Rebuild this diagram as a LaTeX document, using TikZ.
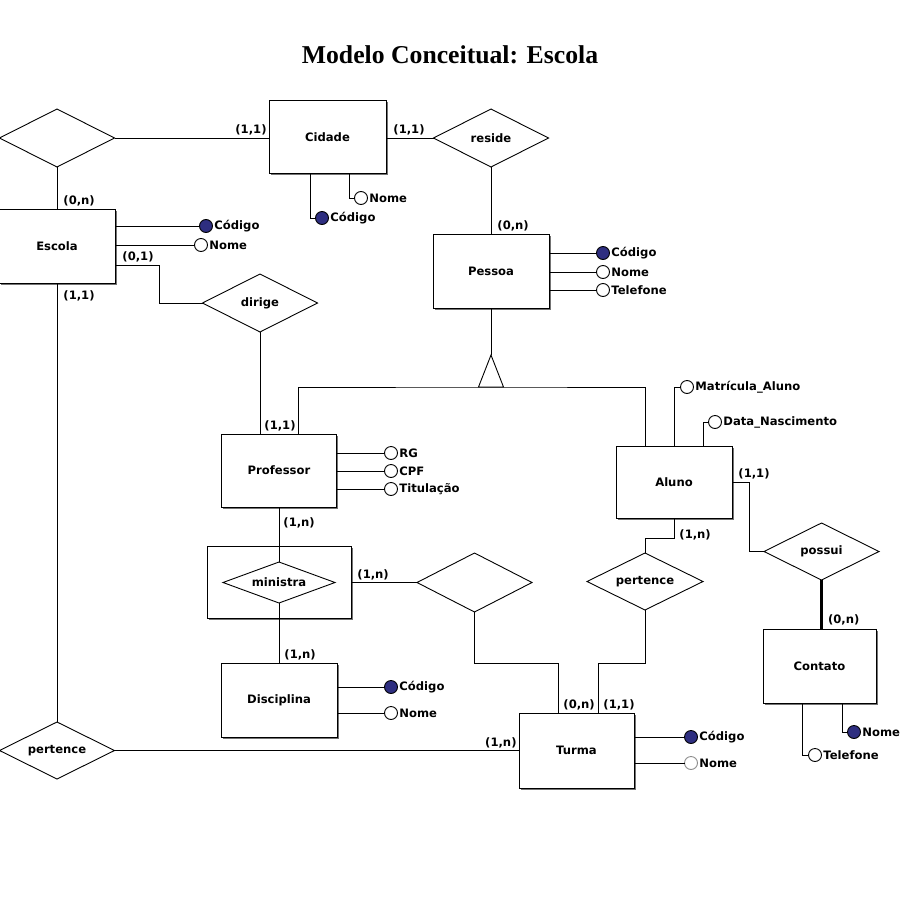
\documentclass[tikz,border=0pt]{standalone}
\usepackage{fontspec}
\setmainfont{DejaVu Sans}
\newfontfamily\titulofont{Liberation Serif}
\usepackage{tikz}
\usetikzlibrary{positioning,calc,shapes.geometric,shadows}

\definecolor{azulchave}{RGB}{46,46,128}

\begin{document}
\begin{tikzpicture}[x=1pt,y=-1pt,line width=0.9pt,
    font=\fontsize{11.6}{14}\selectfont\bfseries,
    entidade/.style={rectangle,draw,fill=white,minimum width=116pt,minimum height=74pt,
      inner sep=0pt,outer sep=0pt,
      drop shadow={shadow xshift=1.5pt,shadow yshift=-1.5pt,fill=black!55,opacity=1}},
    relac/.style={diamond,draw,fill=white,aspect=2.5,inner sep=0pt,outer sep=0pt,
      minimum width=115pt,minimum height=58pt},
    chave/.style={circle,draw,fill=azulchave,minimum size=13pt,inner sep=0pt,outer sep=0pt},
    atrib/.style={circle,draw,fill=white,minimum size=13pt,inner sep=0pt,outer sep=0pt},
    rot/.style={inner sep=1.5pt},
    card/.style={inner sep=2pt}]
    \useasboundingbox (0,0) rectangle (908,908);

    \node[font=\titulofont\fontsize{25.7}{30}\selectfont\bfseries,anchor=base] (titulo) at (450,63) {Modelo Conceitual: Escola};

    \node[entidade] (escola) at (57,246) {Escola};
    \node[entidade,minimum width=117pt,minimum height=73pt] (cidade) at (327.5,137) {Cidade};
    \node[entidade] (pessoa) at (491,271) {Pessoa};
    \node[entidade,minimum width=115pt,minimum height=73pt] (professor) at (279,470.5) {Professor};
    \node[entidade,minimum height=72pt] (aluno) at (674,482) {Aluno};
    \node[entidade,minimum width=144pt,minimum height=72pt] (agreg) at (279,582) {};
    \node[entidade] (disciplina) at (279,700) {Disciplina};
    \node[entidade,minimum width=115pt,minimum height=75pt] (turma) at (576.5,750.5) {Turma};
    \node[entidade,minimum width=113pt] (contato) at (819.5,666) {Contato};

    \node[relac] (rEsCid) at (57,138) {};
    \node[relac] (reside) at (491,138) {reside};
    \node[relac] (dirige) at (260,303) {dirige};
    \node[relac,minimum width=112pt,minimum height=41pt] (ministra) at (279,582.5) {ministra};
    \node[relac,minimum height=59pt] (rMinTur) at (474.5,582.5) {};
    \node[relac,minimum width=116pt,minimum height=57pt] (pertAluno) at (645,581.5) {pertence};
    \node[relac,minimum height=57pt] (possui) at (821.5,551.5) {possui};
    \node[relac,minimum height=57pt] (pertEscola) at (57,750.5) {pertence};

    \draw (rEsCid.east) -- node[card,pos=1,above left] {(1,1)} (rEsCid.east -| cidade.west);
    \draw (rEsCid.south) -- node[card,pos=1,above right,xshift=4pt] {(0,n)} (escola.north);
    \draw (cidade.east |- reside.west) -- node[card,pos=0,above right,xshift=5pt] {(1,1)} (reside.west);
    \draw (reside.south) -- node[card,pos=1,above right,xshift=4pt] {(0,n)} (pessoa.north);

    \node[chave,label={[rot]right:Código}] (cidCod) at (322,218) {};
    \node[atrib,label={[rot]right:Nome}] (cidNome) at (361,198) {};
    \draw ([xshift=-17.5pt]cidade.south) |- (cidCod);
    \draw ([xshift=21.5pt]cidade.south) |- (cidNome);

    \node[chave,label={[rot]right:Código}] (escCod) at (206,226) {};
    \node[atrib,label={[rot]right:Nome}] (escNome) at (201,245) {};
    \draw (escola.east |- escCod) -- (escCod);
    \draw (escola.east |- escNome) -- (escNome);

    \draw ([yshift=-19pt]escola.east) -- node[card,pos=0,above right,xshift=5pt] {(0,1)} ++(44,0) |- (dirige.west);
    \draw (escola.south) -- node[card,pos=0,below right,xshift=4pt,yshift=-5pt] {(1,1)} (pertEscola.north);
    \draw (pertEscola.east) -- node[card,pos=1,above left] {(1,n)} (pertEscola.east -| turma.west);
    \draw (dirige.south) -- node[card,pos=1,above right,xshift=2pt] {(1,1)} (dirige.south |- professor.north);

    \node[chave,label={[rot]right:Código}] (pesCod) at (603,253) {};
    \draw (pessoa.east |- pesCod) -- (pesCod);
    \foreach \y/\nome in {272/Nome,290/Telefone} {
      \node[atrib,label={[rot]right:\nome}] (pes\y) at (603,\y) {};
      \draw (pessoa.east |- pes\y) -- (pes\y);
    }

    \coordinate (heranca) at (491,355);
    \coordinate (baseH) at (491,387);
    \draw (pessoa.south) -- (heranca);
    \draw (heranca) -- ++(-12.5,32) -- ++(25,0) -- cycle;
    \draw ([xshift=19pt]professor.north) |- (baseH) -| ([xshift=-29pt]aluno.north);

    \foreach \y/\nome in {453/RG,471/CPF,489/Titulação} {
      \node[atrib,label={[rot]right:\nome}] (prof\y) at (391,\y) {};
      \draw (professor.east |- prof\y) -- (prof\y);
    }

    \draw (professor.south) -- node[card,pos=0,below right,xshift=2pt,yshift=-8pt] {(1,n)} (ministra.north);
    \draw (ministra.south) -- node[card,pos=1,above right,xshift=3pt] {(1,n)} (disciplina.north);
    \draw (agreg.east |- rMinTur.west) -- node[card,pos=0,above right,xshift=4pt] {(1,n)} (rMinTur.west);
    \draw (rMinTur.south) -- ++(0,51) -| node[card,pos=1,above right,xshift=3pt] {(0,n)} ([xshift=-18.5pt]turma.north);

    \node[chave,label={[rot]right:Código}] (disCod) at (391,687) {};
    \node[atrib,label={[rot]right:Nome}] (disNome) at (391,713) {};
    \draw (disciplina.east |- disCod) -- (disCod);
    \draw (disciplina.east |- disNome) -- (disNome);

    \node[atrib,label={[rot]right:Matrícula\_Aluno}] (aluMat) at (687,387) {};
    \node[atrib,label={[rot]right:Data\_Nascimento}] (aluData) at (715,422) {};
    \draw (aluno.north) |- (aluMat);
    \draw ([xshift=29pt]aluno.north) |- (aluData);

    \draw (aluno.south) -- node[card,pos=1,right,xshift=3pt,yshift=3pt] {(1,n)} ++(0,20) -| (pertAluno.north);
    \draw (pertAluno.south) -- ++(0,53) -| node[card,pos=1,above right,xshift=3pt] {(1,1)} ([xshift=21.5pt]turma.north);
    \draw (aluno.east) -- node[card,pos=0,above right,xshift=4pt] {(1,1)} ++(17,0) |- (possui.west);
    \draw[line width=3pt] (possui.south) -- node[card,pos=1,above right,xshift=3pt] {(0,n)} (possui.south |- contato.north);

    \node[chave,label={[rot]right:Nome}] (conNome) at (854,732) {};
    \node[atrib,label={[rot]right:Telefone}] (conTel) at (815,755) {};
    \draw ([xshift=-17.5pt]contato.south) |- (conTel);
    \draw ([xshift=22.5pt]contato.south) |- (conNome);

    \node[chave,label={[rot]right:Código}] (turCod) at (691,737) {};
    \node[atrib,draw=black!45,label={[rot]right:Nome}] (turNome) at (691,763) {};
    \draw (turma.east |- turCod) -- (turCod);
    \draw (turma.east |- turNome) -- (turNome);
\end{tikzpicture}
\end{document}
